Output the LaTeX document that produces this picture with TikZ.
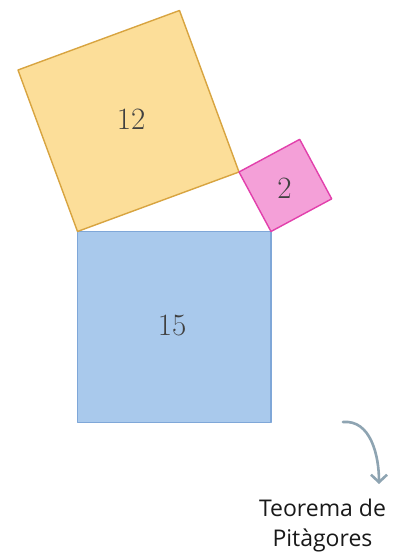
\documentclass[tikz,border=0pt]{standalone}
\usepackage{fontspec}
\newfontfamily\notefont{Open Sans}
\usepackage{tikz}
\usetikzlibrary{calc, arrows.meta}
\definecolor{sqorange}{RGB}{252, 222, 153}
\definecolor{edgeorange}{RGB}{216, 164, 64}
\definecolor{sqpink}{RGB}{244, 160, 216}
\definecolor{edgepink}{RGB}{226, 64, 172}
\definecolor{sqblue}{RGB}{169, 201, 236}
\definecolor{edgeblue}{RGB}{127, 167, 216}
\definecolor{arrowgrey}{RGB}{142, 164, 178}

\begin{document}
\begin{tikzpicture}[x=1pt, y=1pt,
    square/.style={line width=1.4, line join=round},
    area/.style={text=black!75, font=\fontsize{31}{31}\selectfont},
    note/.style={align=center, text=black!90, font=\notefont\fontsize{23}{30}\selectfont}]

  \fill[white] (0, 0) rectangle (394, 553);
  \useasboundingbox (0, 0) rectangle (394, 553);

  % vertices of the right triangle
  \coordinate (A) at (77.5, 321.5);
  \coordinate (E) at (271, 321.5);
  \coordinate (B) at (239, 381);

  % squares on the three sides
  \filldraw[square, fill=sqblue, draw=edgeblue] (A) rectangle (271, 130.5);
  \filldraw[square, fill=sqorange, draw=edgeorange]
    (A) -- (B) -- ($(B)!1!-90:(A)$) -- ($(A)!1!90:(B)$) -- cycle;
  \filldraw[square, fill=sqpink, draw=edgepink]
    (B) -- ($(B)!1.02!90:(E)$) -- ($(E)!1.02!-90:(B)$) -- (E) -- cycle;

  \node[area] (big)   at (131, 434) {12};
  \node[area] (small) at (284.5, 365) {2};
  \node[area] (hyp)   at (172, 227) {15};

  \node[note] (caption) at (322.5, 27) {Teorema de\\Pitàgores};

  \coordinate (arrowstart) at (343, 131);
  \coordinate (arrowtip) at (379, 69);
  \draw[arrowgrey, line width=2.6, line cap=round,
        -{Straight Barb[length=7.5pt, width=16pt, line width=2.6]}]
    (arrowstart) to[out=5, in=90] (arrowtip);

\end{tikzpicture}
\end{document}
